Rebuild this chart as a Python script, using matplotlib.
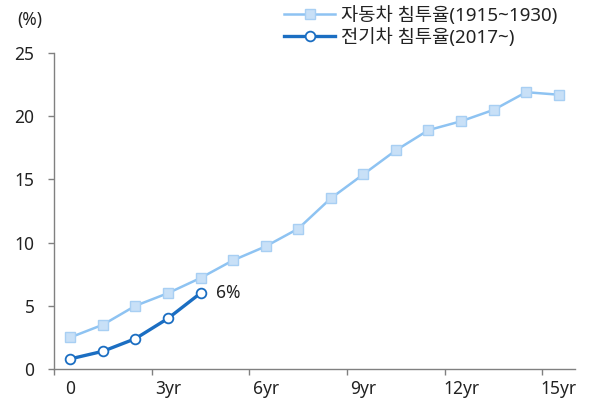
import matplotlib.pyplot as plt
from matplotlib.ticker import FixedLocator, NullFormatter

plt.rcParams['font.family'] = ['Noto Sans', 'Noto Sans CJK KR', 'DejaVu Sans']

# Penetration rate by year since start (%)
years = list(range(16))
car_rate = [2.5, 3.5, 5.0, 6.0, 7.2, 8.6, 9.7, 11.1, 13.5, 15.4, 17.3, 18.9, 19.6, 20.5, 21.9, 21.7]
ev_years = list(range(5))
ev_rate = [0.8, 1.4, 2.4, 4.0, 6.0]

tick_pos = [0, 3, 6, 9, 12, 15]
tick_labels = ['0', '3yr', '6yr', '9yr', '12yr', '15yr']

car_label = '자동차 침투율(1915~1930)'
ev_label = '전기차 침투율(2017~)'

light = '#8ec3f2'
dark = '#1b6ec2'
axis_col = '#808080'
text_col = '#222222'

fig = plt.figure(figsize=(5.9, 4.03), dpi=100)
ax = fig.add_axes([54 / 590, 1 - 369 / 403, 521 / 590, 316 / 403])

ax.plot(years, car_rate, color=light, lw=1.8, marker='s', ms=7.5,
        mfc='#c8e0f7', mec='#a8cff3', mew=1.0, label=car_label, zorder=3)
ax.plot(ev_years, ev_rate, color=dark, lw=2.4, marker='o', ms=7,
        mfc='white', mec=dark, mew=1.3, label=ev_label, zorder=4)

ax.annotate(f'{ev_rate[-1]:.0f}%', xy=(ev_years[-1], ev_rate[-1]), xytext=(11, 0),
            textcoords='offset points', ha='left', va='center',
            fontsize=12.5, color=text_col)

ax.set_xlim(-0.5, 15.5)
ax.set_ylim(0, 25)
ax.set_yticks([0, 5, 10, 15, 20, 25])

# category-style axis: ticks at boundaries, labels at centres
ax.xaxis.set_major_locator(FixedLocator([-0.5, 2.5, 5.5, 8.5, 11.5, 14.5]))
ax.xaxis.set_major_formatter(NullFormatter())
ax.xaxis.set_minor_locator(FixedLocator(tick_pos))
ax.set_xticklabels(tick_labels, minor=True)
ax.tick_params(axis='x', which='minor', length=0, pad=8, labelsize=12.5, labelcolor=text_col)
ax.tick_params(axis='x', which='major', length=4, color=axis_col, width=1)
ax.tick_params(axis='y', length=4, color=axis_col, width=1, pad=10, labelsize=12.5, labelcolor=text_col)

for side in ('top', 'right'):
    ax.spines[side].set_visible(False)
for side in ('left', 'bottom'):
    ax.spines[side].set_color(axis_col)
    ax.spines[side].set_linewidth(1)

fig.text(17 / 590, 1 - 20 / 403, '(%)', fontsize=12.5, color=text_col, va='center', ha='left')

leg = fig.legend(loc='upper left', bbox_to_anchor=(280 / 590, 1 - 2 / 403), frameon=False,
                 fontsize=13.5, handlelength=2.75, handletextpad=0.3,
                 labelspacing=0.15, borderpad=0.2, borderaxespad=0)
for t in leg.get_texts():
    t.set_color(text_col)

fig.savefig('out.png', dpi=100)
